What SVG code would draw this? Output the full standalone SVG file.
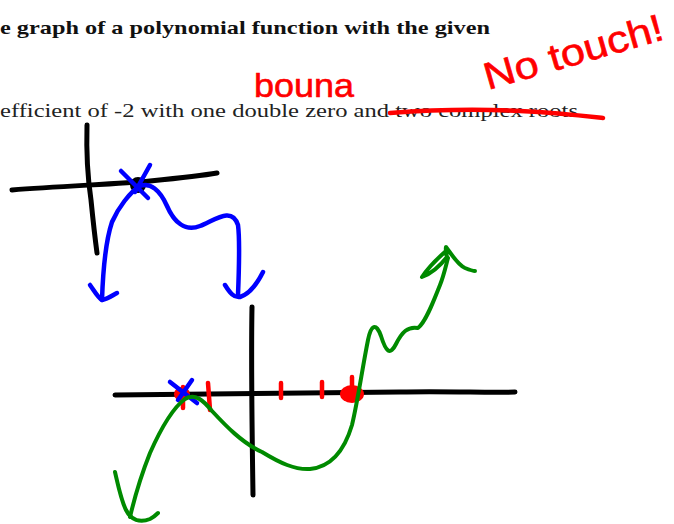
<svg xmlns="http://www.w3.org/2000/svg" width="674" height="524" viewBox="0 0 674 524">
<style>
.ink{fill:none;stroke-linecap:round;stroke-linejoin:round}
.k{stroke:#000;stroke-width:5}
.b{stroke:#0000ff;stroke-width:4.5}
.g{stroke:#008a00;stroke-width:4}
.r{stroke:#ff0000;stroke-width:4.5}
.hand{fill:#ff0000;stroke:#ff0000;stroke-width:0.6;font-family:"Liberation Sans",sans-serif}
</style>
<rect width="674" height="524" fill="#fff"/>
<g id="text">
<text x="0" y="34" font-family="Liberation Serif,serif" font-weight="bold" font-size="19" textLength="490" lengthAdjust="spacingAndGlyphs" fill="#111">e graph of a polynomial function with the given</text>
<text x="0" y="117" font-family="Liberation Serif,serif" font-size="18" textLength="578" lengthAdjust="spacingAndGlyphs" fill="#222">efficient of -2 with one double zero and two complex roots</text>
</g>
<g id="annotations">
<path class="ink r" d="M390,113 C430,110 480,109 520,111 C560,113 585,116 603,118"/>
<text class="hand" x="254" y="97" font-size="34" textLength="100" lengthAdjust="spacingAndGlyphs">bouna</text>
<text class="hand" x="0" y="0" font-size="38" textLength="185" lengthAdjust="spacingAndGlyphs" transform="translate(488,90) rotate(-16)">No touch!</text>
</g>
<g id="upper-graph">
<path class="ink k" d="M12,190 C60,186 120,184 150,181 C180,178 200,176 217,173"/>
<path class="ink k" d="M87,125 C86,160 88,180 91,200 C93,220 95,238 97,253"/>
<circle cx="138" cy="185" r="8" fill="#000"/>
<path class="ink b" d="M121,171 L148,198 M150,165 L135,192"/>
<path class="ink b" d="M102,300 C103,270 106,240 112,222 C118,208 130,192 140,186 C150,182 160,190 167,206 C174,222 185,232 200,226 C215,220 232,206 238,225 C240,240 239,270 238,295"/>
<path class="ink b" d="M90,285 C95,292 98,298 102,300 C108,299 113,295 117,293"/>
<path class="ink b" d="M225,285 C230,293 234,298 240,297 C250,294 258,282 263,272"/>
</g>
<g id="lower-graph">
<path class="ink k" d="M115,395 C200,394 300,393 400,392 C450,391 490,393 515,392"/>
<path class="ink k" d="M252,307 C251,360 252,430 253,495"/>
<ellipse cx="182" cy="394" rx="8" ry="7" fill="#ff0000"/>
<ellipse cx="352" cy="394" rx="12" ry="9" fill="#ff0000"/>
<path class="ink r" d="M208,383 L210,410 M281,383 L281,398 M322,382 L322,397 M183,387 L183,408 M352,377 L352,393"/>
<path class="ink b" d="M170,382 L197,403 M192,380 L178,400"/>
<path class="ink g" d="M130,517 C134,500 140,478 150,453 C158,435 170,410 185,399 C195,393 203,400 212,411 C225,425 242,443 262,452 C280,463 295,470 310,469 C330,467 344,452 352,425 C358,400 362,370 368,340 C371,325 376,322 381,336 C386,352 390,356 396,344 C402,332 408,326 418,328 C426,322 434,300 440,285 C444,275 446,265 448,258"/>
<path class="ink g" d="M115,472 C118,485 121,500 126,510 C131,520 140,523 150,519 C154,517 156,515 158,513"/>
<path class="ink g" d="M446,251 C438,258 428,268 422,277 C430,274 440,266 447,257 C446,252 445,248 446,247 C452,255 458,265 465,268 C470,270 473,271 475,271"/>
</g>
</svg>
